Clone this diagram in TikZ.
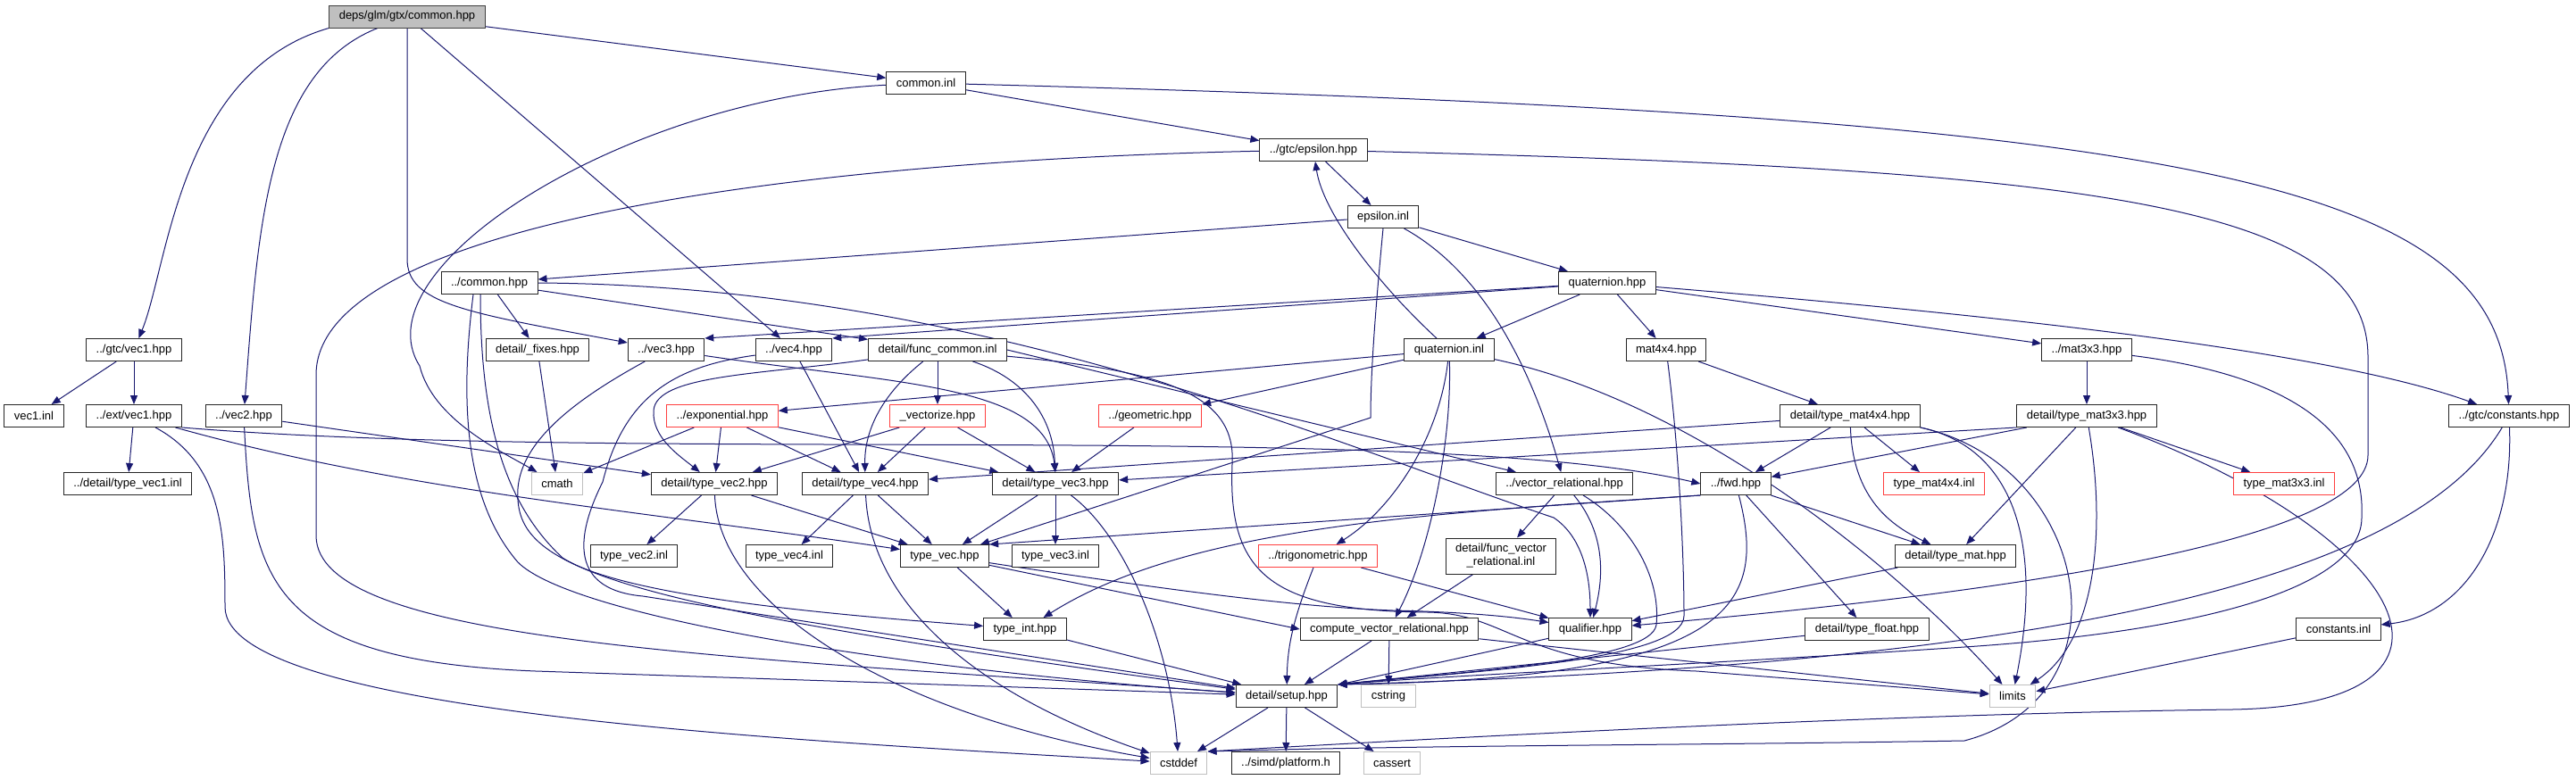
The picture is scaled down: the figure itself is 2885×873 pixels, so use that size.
\documentclass[tikz,border=0pt]{standalone}
\usepackage{fontspec}
\setmainfont{Liberation Sans}
\usetikzlibrary{arrows.meta, backgrounds}

\definecolor{edgeblue}{RGB}{25,25,112}
\definecolor{rootfill}{RGB}{191,191,191}
\definecolor{rootline}{RGB}{64,64,64}
\definecolor{redline}{RGB}{255,64,64}
\definecolor{sysline}{RGB}{191,191,191}

\begin{document}
\begin{tikzpicture}[
  x=0.5pt, y=-0.5pt,
  filebox/.style={draw=black!85, fill=white, line width=0.5pt, minimum height=12.5pt,
                  inner xsep=5.5pt, inner ysep=1pt, font=\fontsize{6.5pt}{7.5pt}\selectfont},
  rootbox/.style={filebox, fill=rootfill, draw=rootline},
  redbox/.style={filebox, draw=redline},
  sysbox/.style={filebox, draw=sysline},
  arr/.style={-{Triangle[length=5pt, width=4pt]}, line width=0.5pt, color=edgeblue},
]
\useasboundingbox (0,0) rectangle (2885,873);

% row 0: the documented header
\node[rootbox] (root) at (456,18.5) {deps/glm/gtx/common.hpp};

% rows 1-4
\node[filebox] (cinl) at (1037,93) {common.inl};
\node[filebox] (eps) at (1471,168) {../gtc/epsilon.hpp};
\node[filebox] (epsinl) at (1549,243) {epsilon.inl};
\node[filebox] (cmn) at (548,317) {../common.hpp};
\node[filebox] (quat) at (1800,317) {quaternion.hpp};

% row 5
\node[filebox] (gvec1) at (150,392) {../gtc/vec1.hpp};
\node[filebox] (fixes) at (602,392) {detail/\_fixes.hpp};
\node[filebox] (vec3) at (746,392) {../vec3.hpp};
\node[filebox] (vec4) at (889,392) {../vec4.hpp};
\node[filebox] (fcommon) at (1050,392) {detail/func\_common.inl};
\node[filebox] (qinl) at (1623,392) {quaternion.inl};
\node[filebox] (mat4) at (1866,392) {mat4x4.hpp};
\node[filebox] (mat3) at (2337,392) {../mat3x3.hpp};

% row 6
\node[filebox] (v1inl) at (38,466) {vec1.inl};
\node[filebox] (evec1) at (150,466) {../ext/vec1.hpp};
\node[filebox] (vec2) at (273,466) {../vec2.hpp};
\node[redbox] (expo) at (809,466) {../exponential.hpp};
\node[redbox] (vecz) at (1050,466) {\_vectorize.hpp};
\node[redbox] (geom) at (1288,466) {../geometric.hpp};
\node[filebox] (tm44) at (2072,466) {detail/type\_mat4x4.hpp};
\node[filebox] (tm33) at (2337,466) {detail/type\_mat3x3.hpp};
\node[filebox] (gconst) at (2810,466) {../gtc/constants.hpp};

% row 7
\node[filebox] (tv1inl) at (143,542) {../detail/type\_vec1.inl};
\node[sysbox] (cmath) at (624,542) {cmath};
\node[filebox] (tv2) at (800,542) {detail/type\_vec2.hpp};
\node[filebox] (tv4) at (969,542) {detail/type\_vec4.hpp};
\node[filebox] (tv3) at (1182,542) {detail/type\_vec3.hpp};
\node[filebox] (vrel) at (1752,542) {../vector\_relational.hpp};
\node[filebox] (fwd) at (1944,542) {../fwd.hpp};
\node[redbox] (tm44inl) at (2166,542) {type\_mat4x4.inl};
\node[redbox] (tm33inl) at (2558,542) {type\_mat3x3.inl};

% row 8
\node[filebox] (tv2inl) at (710,623) {type\_vec2.inl};
\node[filebox] (tv4inl) at (884,623) {type\_vec4.inl};
\node[filebox] (tvec) at (1058,623) {type\_vec.hpp};
\node[filebox] (tv3inl) at (1182,623) {type\_vec3.inl};
\node[redbox] (trig) at (1476,623) {../trigonometric.hpp};
\node[filebox, align=center, minimum height=20pt] (fvrel) at (1681,623) {detail/func\_vector\\\_relational.inl};
\node[filebox] (tmat) at (2190,623) {detail/type\_mat.hpp};

% row 9
\node[filebox] (tint) at (1148,705) {type\_int.hpp};
\node[filebox] (cvrel) at (1556,705) {compute\_vector\_relational.hpp};
\node[filebox] (qual) at (1781,705) {qualifier.hpp};
\node[filebox] (tfloat) at (2091,705) {detail/type\_float.hpp};
\node[filebox] (cinl2) at (2619,705) {constants.inl};

% rows 10-11
\node[filebox] (setup) at (1441,780) {detail/setup.hpp};
\node[sysbox] (cstring) at (1555,780) {cstring};
\node[sysbox] (limits) at (2254,780) {limits};
\node[sysbox] (cstddef) at (1320,855) {cstddef};
\node[filebox] (simd) at (1440,855) {../simd/platform.h};
\node[sysbox] (cassert) at (1559,855) {cassert};

% include edges on background layer
\begin{scope}[on background layer]
  \fill[white] (0,0) rectangle (2885,873);
  % deps/glm/gtx/common.hpp
  \draw[arr] (root.south west) .. controls (200,80) and (188,300) .. (gvec1);
  \draw[arr] (root) .. controls (300,80) and (289,250) .. (vec2);
  \draw[arr] (root.south) -- (456,290) .. controls (456,340) and (520,350) .. (vec3);
  \draw[arr] (root) -- (vec4);
  \draw[arr] (root) -- (cinl);
  % common.inl
  \draw[arr] (cinl) .. controls (700,110) and (400,300) .. (470,410) .. controls (485,470) and (560,505) .. (cmath);
  \draw[arr] (cinl) -- (eps);
  \draw[arr] (cinl) .. controls (2450,130) and (2800,200) .. (gconst);
  % ../gtc/epsilon.hpp
  \draw[arr] (eps) -- (epsinl);
  \draw[arr] (eps) .. controls (900,180) and (354,250) .. (354,420) -- (354,600) .. controls (354,720) and (800,735) .. (setup);
  \draw[arr] (eps) .. controls (2350,190) and (2652,230) .. (2652,400) -- (2652,510) .. controls (2652,600) and (2300,660) .. (qual);
  % epsilon.inl
  \draw[arr] (epsinl) -- (cmn);
  \draw[arr] (epsinl.south) .. controls (1540,350) and (1535,420) .. (1535,468) -- (tvec);
  \draw[arr] (epsinl) .. controls (1670,310) and (1720,430) .. (vrel);
  \draw[arr] (epsinl) -- (quat);
  % ../common.hpp
  \draw[arr] (cmn) -- (fixes);
  \draw[arr] ([xshift=-9pt]cmn.south) .. controls (515,450) and (520,560) .. (580,630) .. controls (640,690) and (1000,750) .. (setup);
  \draw[arr] ([xshift=-5pt]cmn.south) .. controls (538,460) and (560,560) .. (630,625) .. controls (700,670) and (950,690) .. (tint);
  \draw[arr] (cmn) -- (fcommon);
  \draw[arr] (cmn.east) .. controls (1100,320) and (1500,500) .. (1740,580) .. controls (1770,600) and (1781,640) .. (qual);
  % quaternion.hpp
  \draw[arr] (quat) -- (qinl);
  \draw[arr] (quat) -- (mat4);
  \draw[arr] (quat) -- (mat3);
  \draw[arr] (quat) .. controls (2200,350) and (2600,390) .. (gconst);
  \draw[arr] (quat) -- (vec3.north east);
  \draw[arr] (quat) -- (vec4.north east);
  % ../gtc/vec1.hpp, detail/_fixes.hpp
  \draw[arr] (gvec1) -- (v1inl);
  \draw[arr] (gvec1) -- (evec1);
  \draw[arr] (fixes) -- (cmath);
  % ../vec2.hpp, ../vec3.hpp, ../vec4.hpp
  \draw[arr] (vec2) -- (tv2);
  \draw[arr] (vec2) .. controls (282,650) and (300,740) .. (600,752) -- (setup);
  \draw[arr] (vec3) .. controls (1000,430) and (1170,430) .. (tv3.north);
  \draw[arr] (vec3) .. controls (640,450) and (575,500) .. (580,560) .. controls (585,640) and (700,680) .. (setup);
  \draw[arr] (vec4) -- (tv4);
  \draw[arr] (vec4) .. controls (760,410) and (700,440) .. (675,540) .. controls (650,590) and (630,660) .. (720,668) -- (setup);
  % detail/func_common.inl
  \draw[arr] (fcommon) .. controls (850,420) and (735,420) .. (732,460) .. controls (730,490) and (760,510) .. (tv2);
  \draw[arr] (fcommon) .. controls (990,440) and (968,480) .. (tv4);
  \draw[arr] (fcommon) -- (vecz);
  \draw[arr] (fcommon) .. controls (1150,425) and (1180,470) .. (tv3);
  \draw[arr] (fcommon.east) -- (vrel);
  \draw[arr] (fcommon) .. controls (1300,415) and (1385,440) .. (1380,520) .. controls (1375,640) and (1420,685) .. (1600,686) .. controls (1690,688) and (1700,745) .. (1900,752) -- (limits);
  % quaternion.inl
  \draw[arr] (qinl) .. controls (1545,320) and (1482,240) .. (eps);
  \draw[arr] (qinl) -- (expo);
  \draw[arr] (qinl) -- (geom);
  \draw[arr] (qinl) .. controls (1612,490) and (1560,570) .. (trig);
  \draw[arr] (qinl) .. controls (1626,500) and (1600,620) .. (cvrel);
  \draw[arr] (qinl) .. controls (1900,450) and (2130,640) .. (limits);
  % mat4x4.hpp, ../mat3x3.hpp
  \draw[arr] (mat4) -- (tm44);
  \draw[arr] (mat4) .. controls (1880,500) and (1886,620) .. (1886,690) .. controls (1886,740) and (1650,752) .. (setup.north east);
  \draw[arr] (mat3) -- (tm33);
  \draw[arr] (mat3) .. controls (2560,420) and (2650,480) .. (2645,580) .. controls (2645,650) and (2500,705) .. (2200,725) .. controls (1900,745) and (1650,755) .. (setup.north east);
  % ../ext/vec1.hpp
  \draw[arr] (evec1) -- (tv1inl);
  \draw[arr] (evec1.south east) .. controls (700,520) and (1600,470) .. (fwd.west);
  \draw[arr] (evec1) .. controls (450,550) and (700,570) .. (tvec);
  \draw[arr] (evec1) .. controls (250,520) and (252,600) .. (252,680) .. controls (252,800) and (900,830) .. (cstddef);
  % red headers
  \draw[arr] (expo) -- (cmath);
  \draw[arr] (expo) -- (tv2);
  \draw[arr] (expo) -- (tv4);
  \draw[arr] (expo) -- (tv3);
  \draw[arr] (vecz) -- (tv2);
  \draw[arr] (vecz) -- (tv4);
  \draw[arr] (vecz) -- (tv3);
  \draw[arr] (geom) -- (tv3);
  \draw[arr] (trig) -- (qual);
  \draw[arr] (trig) .. controls (1450,690) and (1442,720) .. (setup);
  % detail/type_vec2/4/3.hpp
  \draw[arr] (tv2) -- (tv2inl);
  \draw[arr] (tv2) -- (tvec);
  \draw[arr] (tv2) .. controls (805,680) and (1000,800) .. (cstddef);
  \draw[arr] (tv4) -- (tv4inl);
  \draw[arr] (tv4) -- (tvec);
  \draw[arr] (tv4) .. controls (975,680) and (1100,780) .. (cstddef);
  \draw[arr] (tv3) -- (tv3inl);
  \draw[arr] (tv3) -- (tvec);
  \draw[arr] (tv3) .. controls (1260,600) and (1310,720) .. (cstddef);
  % type_vec.hpp, type_int.hpp
  \draw[arr] (tvec) -- (tint);
  \draw[arr] (tvec) -- (cvrel.west);
  \draw[arr] (tvec) .. controls (1300,660) and (1450,680) .. (1560,684) .. controls (1650,686) and (1700,692) .. (qual);
  \draw[arr] (tint) -- (setup);
  % vector_relational, fwd, type_mat, type_float
  \draw[arr] (vrel) -- (fvrel);
  \draw[arr] (vrel) .. controls (1800,600) and (1795,650) .. (qual);
  \draw[arr] (vrel) .. controls (1830,590) and (1860,650) .. (1855,700) .. controls (1850,740) and (1650,752) .. (setup.north east);
  \draw[arr] (fvrel) -- (cvrel);
  \draw[arr] (fwd.south west) -- (tvec.north east);
  \draw[arr] (fwd.south west) .. controls (1600,575) and (1330,590) .. (tint);
  \draw[arr] (fwd) .. controls (1980,680) and (1940,760) .. (setup.north east);
  \draw[arr] (fwd) -- (tfloat);
  \draw[arr] (fwd) -- (tmat);
  \draw[arr] (tmat) -- (qual);
  \draw[arr] (tfloat) -- (setup.north east);
  % compute_vector_relational, qualifier, setup
  \draw[arr] (cvrel) -- (setup);
  \draw[arr] (cvrel) -- (cstring);
  \draw[arr] (cvrel) -- (limits);
  \draw[arr] (qual) -- (setup);
  \draw[arr] (setup) -- (cstddef);
  \draw[arr] (setup) -- (simd);
  \draw[arr] (setup) -- (cassert);
  % detail/type_mat4x4.hpp, detail/type_mat3x3.hpp
  \draw[arr] (tm44) -- (fwd);
  \draw[arr] (tm44) -- (tm44inl);
  \draw[arr] (tm44) .. controls (2075,560) and (2120,590) .. (tmat);
  \draw[arr] (tm44) -- (tv4);
  \draw[arr] (tm44.south east) .. controls (2250,500) and (2290,600) .. (limits);
  \draw[arr] (tm44.south east) .. controls (2340,520) and (2390,780) .. (2200,830) .. controls (1900,835) and (1600,835) .. (cstddef.north east);
  \draw[arr] (tm33) -- (fwd);
  \draw[arr] (tm33.south west) -- (tv3);
  \draw[arr] (tm33) -- (tm33inl);
  \draw[arr] (tm33) -- (tmat);
  \draw[arr] (tm33) .. controls (2360,600) and (2345,720) .. (limits);
  \draw[arr] (tm33) .. controls (2700,600) and (2800,790) .. (2500,795) .. controls (2100,800) and (1600,828) .. (cstddef.north east);
  % ../gtc/constants.hpp
  \draw[arr] (gconst) .. controls (2815,600) and (2760,690) .. (cinl2);
  \draw[arr] (gconst) .. controls (2700,650) and (2300,745) .. (setup.north east);
  \draw[arr] (cinl2) -- (limits);
\end{scope}

\end{tikzpicture}
\end{document}
